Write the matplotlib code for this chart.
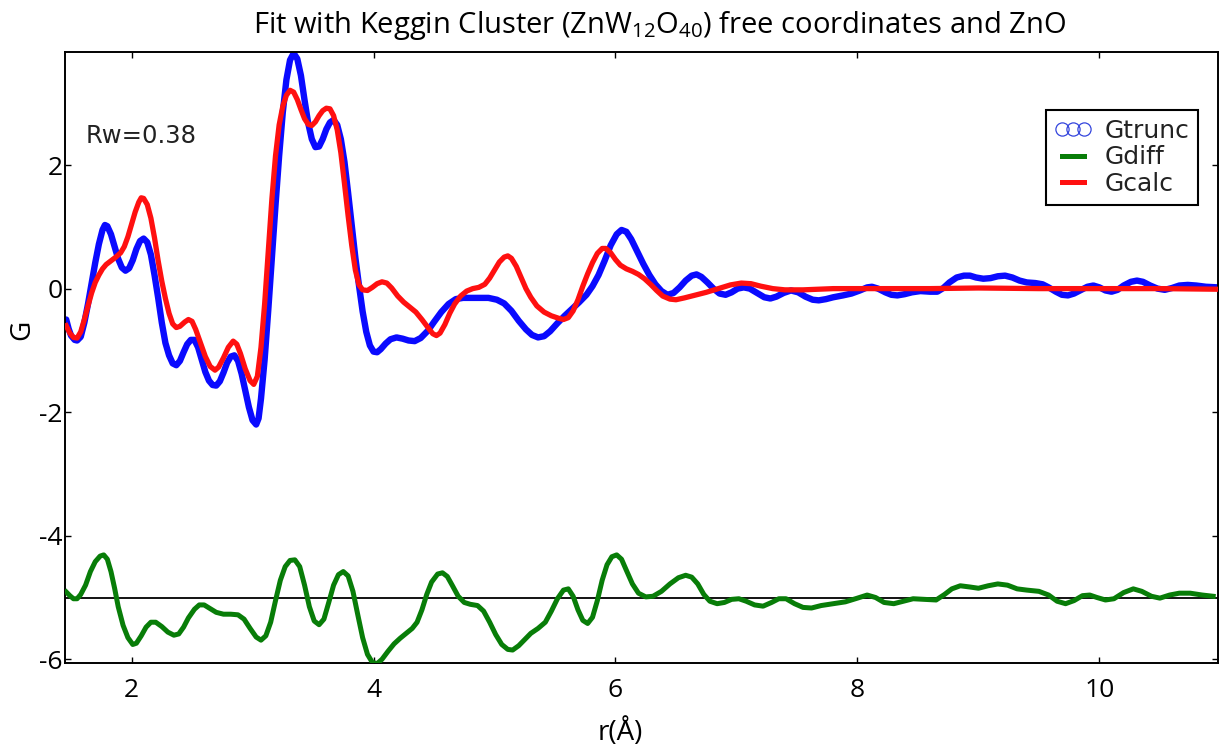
import matplotlib
matplotlib.use("Agg")
import matplotlib.pyplot as plt
from matplotlib.lines import Line2D

# ---------------- data ----------------
r_trunc = [1.46, 1.48, 1.50, 1.53, 1.55, 1.58, 1.61, 1.64, 1.67, 1.70, 1.73, 1.76, 1.78,
           1.80, 1.83, 1.86, 1.89, 1.92, 1.95, 1.98, 2.01, 2.04, 2.07, 2.10, 2.13, 2.16,
           2.19, 2.22, 2.25, 2.28, 2.31, 2.34, 2.37, 2.40, 2.43, 2.46, 2.49, 2.52, 2.55,
           2.58, 2.61, 2.64, 2.67, 2.70, 2.73, 2.76, 2.79, 2.82, 2.85, 2.88, 2.91, 2.94,
           2.97, 3.00, 3.03, 3.05, 3.07, 3.10, 3.13, 3.16, 3.19, 3.22, 3.25, 3.28, 3.31,
           3.34, 3.37, 3.40, 3.43, 3.46, 3.49, 3.52, 3.55, 3.58, 3.61, 3.64, 3.67, 3.70,
           3.73, 3.76, 3.79, 3.82, 3.85, 3.88, 3.91, 3.94, 3.97, 4.00, 4.03, 4.06, 4.10,
           4.14, 4.19, 4.24, 4.29, 4.34, 4.39, 4.45, 4.50, 4.56, 4.62, 4.68, 4.74, 4.85,
           4.95, 5.02, 5.08, 5.14, 5.20, 5.26, 5.31, 5.36, 5.41, 5.46, 5.52, 5.58, 5.64,
           5.70, 5.76, 5.81, 5.86, 5.91, 5.96, 6.01, 6.05, 6.09, 6.13, 6.18, 6.23, 6.28,
           6.33, 6.38, 6.43, 6.48, 6.53, 6.58, 6.63, 6.67, 6.71, 6.76, 6.81, 6.86, 6.91,
           6.96, 7.01, 7.06, 7.11, 7.17, 7.23, 7.28, 7.33, 7.39, 7.45, 7.51, 7.57, 7.63,
           7.68, 7.74, 7.80, 7.88, 7.95, 8.02, 8.08, 8.12, 8.17, 8.23, 8.28, 8.33, 8.39,
           8.45, 8.52, 8.60, 8.66, 8.71, 8.76, 8.82, 8.88, 8.93, 8.98, 9.04, 9.10, 9.16,
           9.22, 9.28, 9.34, 9.40, 9.47, 9.53, 9.58, 9.64, 9.69, 9.74, 9.79, 9.85, 9.90,
           9.95, 10.00, 10.05, 10.10, 10.15, 10.20, 10.26, 10.31, 10.36, 10.42, 10.48,
           10.54, 10.60, 10.66, 10.73, 10.80, 10.88, 10.98]
g_trunc = [-0.50, -0.65, -0.76, -0.83, -0.84, -0.78, -0.55, -0.25, 0.08, 0.42, 0.72, 0.95,
           1.03, 1.01, 0.88, 0.68, 0.48, 0.34, 0.29, 0.33, 0.46, 0.64, 0.77, 0.81, 0.75,
           0.55, 0.22, -0.15, -0.55, -0.88, -1.08, -1.21, -1.24, -1.17, -1.03, -0.90, -0.83,
           -0.83, -0.95, -1.15, -1.35, -1.49, -1.56, -1.57, -1.50, -1.36, -1.20, -1.10, -1.08,
           -1.17, -1.38, -1.65, -1.92, -2.13, -2.20, -2.10, -1.78, -1.15, -0.35, 0.50, 1.35,
           2.15, 2.85, 3.38, 3.70, 3.81, 3.72, 3.45, 3.05, 2.68, 2.42, 2.29, 2.30, 2.42, 2.58,
           2.69, 2.73, 2.65, 2.42, 2.05, 1.55, 1.02, 0.50, 0.05, -0.37, -0.70, -0.92, -1.02,
           -1.03, -0.98, -0.89, -0.82, -0.79, -0.81, -0.84, -0.85, -0.80, -0.68, -0.54, -0.38,
           -0.25, -0.17, -0.15, -0.15, -0.15, -0.18, -0.24, -0.36, -0.52, -0.66, -0.75, -0.79,
           -0.77, -0.69, -0.56, -0.44, -0.33, -0.22, -0.10, 0.04, 0.22, 0.45, 0.70, 0.88, 0.95,
           0.92, 0.80, 0.60, 0.40, 0.22, 0.07, -0.04, -0.10, -0.07, 0.02, 0.13, 0.21, 0.23,
           0.19, 0.10, 0.00, -0.08, -0.10, -0.06, 0.00, 0.02, 0.00, -0.07, -0.14, -0.16, -0.13,
           -0.07, -0.03, -0.06, -0.13, -0.18, -0.19, -0.17, -0.14, -0.11, -0.08, -0.03, 0.02,
           0.03, 0.00, -0.06, -0.10, -0.11, -0.09, -0.06, -0.04, -0.05, -0.05, 0.01, 0.10, 0.18,
           0.21, 0.21, 0.18, 0.16, 0.17, 0.20, 0.21, 0.18, 0.13, 0.10, 0.09, 0.07, 0.02, -0.05,
           -0.10, -0.11, -0.08, -0.02, 0.03, 0.05, 0.02, -0.03, -0.05, -0.02, 0.05, 0.11, 0.13,
           0.11, 0.05, 0.00, -0.02, 0.01, 0.05, 0.06, 0.05, 0.03, 0.02]

r_calc = [1.46, 1.49, 1.52, 1.55, 1.58, 1.61, 1.64, 1.67, 1.70, 1.73, 1.76, 1.79, 1.83,
          1.87, 1.91, 1.94, 1.97, 2.00, 2.03, 2.06, 2.08, 2.10, 2.13, 2.16, 2.19, 2.22,
          2.25, 2.28, 2.31, 2.34, 2.37, 2.40, 2.44, 2.47, 2.50, 2.53, 2.57, 2.61, 2.65,
          2.69, 2.72, 2.76, 2.80, 2.84, 2.87, 2.90, 2.94, 2.98, 3.01, 3.04, 3.07, 3.10,
          3.13, 3.16, 3.19, 3.22, 3.25, 3.28, 3.31, 3.34, 3.37, 3.40, 3.43, 3.46, 3.49,
          3.52, 3.55, 3.58, 3.61, 3.64, 3.67, 3.70, 3.73, 3.76, 3.79, 3.82, 3.85, 3.88,
          3.91, 3.95, 3.99, 4.03, 4.07, 4.11, 4.15, 4.20, 4.25, 4.30, 4.35, 4.40, 4.45,
          4.49, 4.52, 4.55, 4.59, 4.63, 4.67, 4.72, 4.77, 4.82, 4.87, 4.92, 4.96, 5.00,
          5.04, 5.08, 5.11, 5.14, 5.18, 5.22, 5.26, 5.30, 5.35, 5.41, 5.47, 5.53, 5.57,
          5.61, 5.65, 5.69, 5.73, 5.77, 5.81, 5.85, 5.89, 5.92, 5.96, 6.00, 6.04, 6.09,
          6.14, 6.19, 6.24, 6.29, 6.34, 6.39, 6.45, 6.50, 6.57, 6.65, 6.75, 6.85, 6.95,
          7.04, 7.12, 7.20, 7.30, 7.40, 7.55, 7.80, 8.20, 8.60, 9.00, 9.50, 10.00, 10.50,
          10.98]
g_calc = [-0.60, -0.72, -0.79, -0.80, -0.70, -0.50, -0.28, -0.07, 0.10, 0.22, 0.32, 0.39,
          0.45, 0.51, 0.58, 0.68, 0.84, 1.04, 1.24, 1.40, 1.47, 1.46, 1.36, 1.14, 0.82, 0.45,
          0.12, -0.16, -0.40, -0.57, -0.63, -0.61, -0.54, -0.50, -0.53, -0.66, -0.88, -1.10,
          -1.26, -1.32, -1.27, -1.12, -0.95, -0.85, -0.90, -1.05, -1.30, -1.49, -1.55, -1.42,
          -0.95, -0.25, 0.60, 1.45, 2.15, 2.65, 2.95, 3.13, 3.21, 3.18, 3.06, 2.90, 2.75,
          2.66, 2.64, 2.70, 2.80, 2.88, 2.92, 2.91, 2.80, 2.57, 2.20, 1.70, 1.18, 0.70, 0.30,
          0.06, -0.02, -0.03, 0.02, 0.08, 0.11, 0.09, 0.01, -0.12, -0.22, -0.30, -0.38, -0.50,
          -0.63, -0.73, -0.76, -0.72, -0.58, -0.40, -0.25, -0.12, -0.04, 0.00, 0.02, 0.07,
          0.17, 0.30, 0.43, 0.51, 0.53, 0.49, 0.36, 0.18, 0.00, -0.14, -0.28, -0.38, -0.44,
          -0.48, -0.50, -0.47, -0.36, -0.18, 0.04, 0.24, 0.42, 0.57, 0.65, 0.65, 0.58, 0.47,
          0.38, 0.32, 0.28, 0.23, 0.16, 0.07, -0.03, -0.12, -0.17, -0.18, -0.15, -0.11, -0.06,
          0.00, 0.06, 0.09, 0.08, 0.04, 0.00, -0.02, -0.02, 0.00, 0.00, 0.00, 0.01, 0.00,
          0.00, 0.00, -0.01]

r_diff = [1.46, 1.49, 1.52, 1.55, 1.58, 1.62, 1.66, 1.70, 1.74, 1.77, 1.80, 1.83, 1.86,
          1.89, 1.93, 1.97, 2.01, 2.04, 2.08, 2.12, 2.16, 2.20, 2.25, 2.30, 2.35, 2.39,
          2.43, 2.47, 2.52, 2.56, 2.60, 2.65, 2.70, 2.76, 2.82, 2.88, 2.93, 2.98, 3.03,
          3.07, 3.11, 3.15, 3.19, 3.23, 3.27, 3.31, 3.35, 3.39, 3.43, 3.47, 3.51, 3.55,
          3.59, 3.63, 3.67, 3.71, 3.75, 3.79, 3.83, 3.87, 3.91, 3.95, 3.99, 4.03, 4.07,
          4.12, 4.17, 4.22, 4.27, 4.32, 4.36, 4.40, 4.44, 4.48, 4.53, 4.57, 4.61, 4.65,
          4.70, 4.75, 4.80, 4.86, 4.91, 4.96, 5.01, 5.06, 5.11, 5.15, 5.20, 5.25, 5.30,
          5.36, 5.42, 5.47, 5.52, 5.57, 5.61, 5.65, 5.69, 5.73, 5.77, 5.81, 5.85, 5.89,
          5.93, 5.97, 6.01, 6.05, 6.09, 6.14, 6.19, 6.25, 6.31, 6.38, 6.45, 6.52, 6.58,
          6.63, 6.68, 6.73, 6.78, 6.84, 6.90, 6.96, 7.02, 7.08, 7.15, 7.22, 7.29, 7.35,
          7.41, 7.48, 7.55, 7.62, 7.70, 7.80, 7.90, 8.00, 8.08, 8.15, 8.22, 8.30, 8.38,
          8.46, 8.55, 8.65, 8.72, 8.78, 8.85, 8.93, 9.00, 9.08, 9.16, 9.24, 9.32, 9.40,
          9.50, 9.58, 9.65, 9.72, 9.79, 9.86, 9.92, 9.98, 10.05, 10.12, 10.20, 10.28,
          10.35, 10.43, 10.50, 10.58, 10.66, 10.75, 10.85, 10.94]
g_diff = [-4.91, -4.97, -5.02, -5.02, -4.95, -4.80, -4.58, -4.42, -4.33, -4.31, -4.38, -4.58,
          -4.85, -5.15, -5.45, -5.65, -5.76, -5.74, -5.62, -5.48, -5.40, -5.40, -5.47, -5.56,
          -5.61, -5.59, -5.48, -5.33, -5.19, -5.12, -5.12, -5.18, -5.24, -5.27, -5.27, -5.28,
          -5.35, -5.50, -5.64, -5.69, -5.62, -5.40, -5.05, -4.72, -4.50, -4.40, -4.39, -4.50,
          -4.80, -5.15, -5.38, -5.44, -5.35, -5.08, -4.80, -4.63, -4.58, -4.65, -4.90, -5.28,
          -5.65, -5.92, -6.05, -6.07, -6.00, -5.87, -5.75, -5.66, -5.58, -5.50, -5.40, -5.20,
          -4.95, -4.75, -4.62, -4.60, -4.66, -4.80, -4.98, -5.08, -5.11, -5.13, -5.22, -5.40,
          -5.60, -5.76, -5.84, -5.85, -5.78, -5.68, -5.58, -5.50, -5.40, -5.22, -5.02, -4.88,
          -4.86, -4.98, -5.20, -5.37, -5.42, -5.32, -5.05, -4.72, -4.47, -4.34, -4.31, -4.38,
          -4.56, -4.78, -4.93, -4.99, -4.98, -4.90, -4.78, -4.68, -4.64, -4.67, -4.78, -4.95,
          -5.06, -5.10, -5.08, -5.03, -5.02, -5.06, -5.12, -5.14, -5.08, -5.02, -5.02, -5.10,
          -5.16, -5.17, -5.13, -5.10, -5.07, -5.01, -4.96, -5.00, -5.08, -5.10, -5.06, -5.02,
          -5.03, -5.04, -4.95, -4.86, -4.81, -4.83, -4.85, -4.81, -4.78, -4.80, -4.86, -4.88,
          -4.90, -4.96, -5.06, -5.10, -5.05, -4.97, -4.96, -5.00, -5.04, -5.02, -4.92, -4.86,
          -4.90, -4.98, -5.01, -4.96, -4.93, -4.93, -4.96, -4.98]

diff_baseline = -5.0
x_ticks = [2, 4, 6, 8, 10]
y_ticks = [-6, -4, -2, 0, 2]
x_limits = (1.45, 10.98)
y_limits = (-6.06, 3.83)
series_labels = ["Gtrunc", "Gdiff", "Gcalc"]
rw_text = "Rw=0.38"
title_text = "Fit with Keggin Cluster (ZnW$_{12}$O$_{40}$) free coordinates and ZnO"
x_label = "r(Å)"
y_label = "G"

# ---------------- style ----------------
plt.rcParams["font.family"] = ["Open Sans", "DejaVu Sans"]
plt.rcParams["axes.unicode_minus"] = False
plt.rcParams["mathtext.fontset"] = "custom"
plt.rcParams["mathtext.rm"] = "Open Sans"
plt.rcParams["mathtext.it"] = "Open Sans"

W, H = 1220, 749
fig = plt.figure(figsize=(W / 100, H / 100), dpi=100)
left, right, top, bottom = 65, 1218, 52, 663
ax = fig.add_axes([left / W, 1 - bottom / H, (right - left) / W, (bottom - top) / H])

blue = "#0a0aff"
green = "#087d08"
red = "#ff1010"

ax.plot(r_trunc, g_trunc, color=blue, lw=4.6, solid_joinstyle="round",
        solid_capstyle="round", zorder=2)
ax.axhline(diff_baseline, color="black", lw=1.3, zorder=2.5)
ax.plot(r_diff, g_diff, color=green, lw=3.6, solid_joinstyle="round", zorder=3)
ax.plot(r_calc, g_calc, color=red, lw=3.8, solid_joinstyle="round", zorder=4)

ax.set_xlim(*x_limits)
ax.set_ylim(*y_limits)
ax.set_xticks(x_ticks)
ax.set_yticks(y_ticks)
ax.tick_params(direction="in", top=True, right=True, length=4, width=1,
               labelsize=19, colors="black")
ax.tick_params(axis="x", pad=11)
ax.tick_params(axis="y", pad=1.5)
for s in ax.spines.values():
    s.set_linewidth(1.4)
    s.set_color("black")

ax.set_xlabel(x_label, fontsize=20)
ax.xaxis.set_label_coords((620 - left) / (right - left), -(733 - bottom) / (bottom - top))
ax.xaxis.label.set_va("center")
ax.set_ylabel(y_label, fontsize=20)
ax.yaxis.set_label_coords(-(left - 22) / (right - left), (bottom - 330) / (bottom - top))
ax.yaxis.label.set_va("center")

fig.text(660 / W, 1 - 25 / H, title_text, fontsize=21, ha="center", va="center")

ax.text((86 - left) / (right - left), (bottom - 136) / (bottom - top), rw_text,
        transform=ax.transAxes, fontsize=17.5, va="center", ha="left",
        family="DejaVu Sans", color="#222222")

h1 = Line2D([], [], ls="none", marker="o", ms=9.5, mfc="none", mec="#3344dd", mew=0.9)
h2 = Line2D([], [], color=green, lw=3.6)
h3 = Line2D([], [], color=red, lw=3.6)
leg = ax.legend([h1, h2, h3], series_labels, numpoints=3, loc="upper right",
                bbox_to_anchor=(1198 / W, 1 - 110 / H), bbox_transform=fig.transFigure,
                borderaxespad=0, fancybox=False, framealpha=1, edgecolor="black",
                prop={"family": "DejaVu Sans", "size": 18}, handlelength=1.5,
                handletextpad=0.5, labelspacing=0.1, borderpad=0.35)
leg.get_frame().set_linewidth(1.5)
for t in leg.get_texts():
    t.set_color("#222222")

fig.savefig("out.png", dpi=100)
